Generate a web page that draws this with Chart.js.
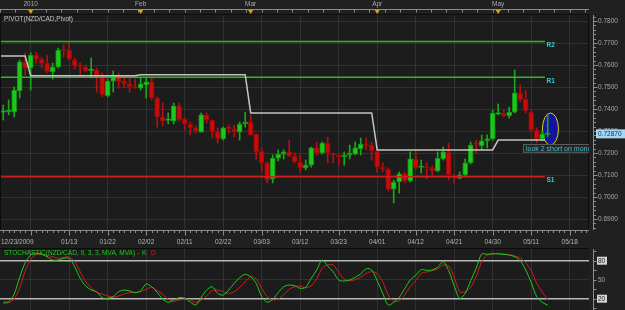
<!DOCTYPE html>
<html>
<head>
<meta charset="utf-8">
<script src="https://cdn.jsdelivr.net/npm/chart.js@4.4.1/dist/chart.umd.min.js"></script>
<style>
    html, body { margin: 0; padding: 0; background: #1f1f1f; overflow: hidden; }
    #wrap { position: relative; width: 625px; height: 310px; }
    #mainChart { position: absolute; left: 0; top: 0; }
    #stochChart { position: absolute; left: 0; top: 248px; }
</style>
</head>
<body>
<div id="wrap">
    <canvas id="mainChart" width="625" height="248"></canvas>
    <canvas id="stochChart" width="625" height="62"></canvas>
</div>
<script>
// daily NZD/CAD bars, index 0 = first visible bar
const opens  = [0.7385,0.7388,0.7386,0.7482,0.7614,0.7586,0.7645,0.7627,0.7609,0.7568,
                0.7591,0.7670,0.7668,0.7623,0.7598,0.7591,0.7573,0.7577,0.7545,0.7459,
                0.7527,0.7545,0.7527,0.7514,0.7500,0.7495,0.7509,0.7523,0.7450,0.7364,
                0.7348,0.7345,0.7414,0.7355,0.7332,0.7314,0.7295,0.7373,0.7350,0.7300,
                0.7264,0.7316,0.7309,0.7295,0.7332,0.7341,0.7286,0.7209,0.7155,0.7082,
                0.7177,0.7195,0.7205,0.7186,0.7159,0.7132,0.7145,0.7223,0.7200,0.7245,
                0.7195,0.7191,0.7182,0.7191,0.7195,0.7218,0.7241,0.7236,0.7209,0.7136,
                0.7127,0.7036,0.7068,0.7105,0.7073,0.7173,0.7134,0.7136,0.7132,0.7118,
                0.7173,0.7205,0.7100,0.7086,0.7100,0.7155,0.7243,0.7232,0.7255,0.7264,
                0.7377,0.7382,0.7368,0.7386,0.7473,0.7445,0.7386,0.7305,0.7264,0.7284];
const highs  = [0.7418,0.7441,0.7500,0.7623,0.7655,0.7655,0.7659,0.7636,0.7645,0.7609,
                0.7677,0.7691,0.7705,0.7632,0.7609,0.7600,0.7632,0.7586,0.7564,0.7536,
                0.7573,0.7564,0.7545,0.7545,0.7536,0.7541,0.7541,0.7541,0.7455,0.7427,
                0.7382,0.7427,0.7427,0.7359,0.7341,0.7323,0.7382,0.7382,0.7350,0.7314,
                0.7318,0.7327,0.7327,0.7341,0.7386,0.7373,0.7288,0.7223,0.7159,0.7191,
                0.7214,0.7214,0.7259,0.7200,0.7191,0.7168,0.7227,0.7250,0.7250,0.7273,
                0.7200,0.7195,0.7205,0.7236,0.7250,0.7268,0.7268,0.7250,0.7223,0.7155,
                0.7132,0.7077,0.7114,0.7114,0.7205,0.7214,0.7168,0.7155,0.7141,0.7205,
                0.7227,0.7245,0.7105,0.7114,0.7173,0.7250,0.7259,0.7282,0.7282,0.7395,
                0.7423,0.7395,0.7409,0.7577,0.7509,0.7486,0.7391,0.7314,0.7300,0.7370];
const lows   = [0.7350,0.7373,0.7364,0.7450,0.7555,0.7486,0.7609,0.7586,0.7564,0.7536,
                0.7586,0.7636,0.7623,0.7582,0.7555,0.7568,0.7541,0.7477,0.7455,0.7455,
                0.7477,0.7495,0.7495,0.7477,0.7493,0.7486,0.7450,0.7441,0.7318,0.7323,
                0.7332,0.7332,0.7345,0.7305,0.7282,0.7291,0.7295,0.7336,0.7268,0.7245,
                0.7259,0.7291,0.7273,0.7259,0.7318,0.7280,0.7173,0.7114,0.7064,0.7064,
                0.7164,0.7173,0.7184,0.7155,0.7114,0.7123,0.7136,0.7191,0.7195,0.7155,
                0.7155,0.7145,0.7145,0.7173,0.7191,0.7191,0.7214,0.7168,0.7114,0.7114,
                0.7027,0.6973,0.7018,0.7064,0.7068,0.7127,0.7109,0.7082,0.7091,0.7114,
                0.7168,0.7077,0.7064,0.7082,0.7091,0.7150,0.7200,0.7214,0.7223,0.7259,
                0.7373,0.7364,0.7359,0.7382,0.7432,0.7382,0.7295,0.7245,0.7255,0.7275];
const closes = [0.7387,0.7392,0.7486,0.7614,0.7586,0.7645,0.7627,0.7605,0.7568,0.7591,
                0.7668,0.7666,0.7627,0.7595,0.7593,0.7573,0.7582,0.7550,0.7464,0.7527,
                0.7550,0.7523,0.7514,0.7500,0.7495,0.7514,0.7523,0.7450,0.7364,0.7345,
                0.7352,0.7414,0.7350,0.7332,0.7314,0.7300,0.7373,0.7350,0.7295,0.7264,
                0.7314,0.7311,0.7295,0.7332,0.7341,0.7282,0.7205,0.7155,0.7077,0.7177,
                0.7195,0.7205,0.7186,0.7159,0.7132,0.7145,0.7223,0.7200,0.7245,0.7200,
                0.7191,0.7182,0.7191,0.7200,0.7223,0.7241,0.7232,0.7209,0.7136,0.7127,
                0.7036,0.7068,0.7105,0.7073,0.7173,0.7132,0.7139,0.7132,0.7118,0.7177,
                0.7205,0.7100,0.7086,0.7100,0.7155,0.7236,0.7239,0.7255,0.7264,0.7382,
                0.7382,0.7368,0.7386,0.7473,0.7441,0.7391,0.7305,0.7264,0.7286,0.7287];

// stochastic (9,3,3) %K and %D
const stochK = [14.3,15.3,27.4,53.8,76.9,89,91.7,90,86.3,81,
                81,83.8,83.8,70.5,52.2,40,33.7,31,21.6,20.6,
                23.2,31,33.7,32.2,29.5,32.6,43.2,39,30,19.5,
                14.3,18,21.6,21,14.8,10,22.2,33.7,39,28.5,
                25.8,33.7,44.3,53.2,58.5,54.7,44.3,23.2,14.3,19,
                29.5,39,41.6,40.5,36.4,38,52.2,65.3,81.1,71.6,
                62.6,49.5,48,49.5,53.8,59,67.4,65.3,48.4,28.5,
                10,14.3,22.2,35.8,49.5,57,65.8,64.8,65.3,69.6,
                78.4,64.2,40.5,20.6,28.5,48.4,68,90.6,90,91,
                90.6,90,89,86.3,80,65.3,45.9,23.2,14.3,10];
const stochD = [12.7,13.7,19.5,37.4,63.7,82.2,89.5,90.6,88.5,86.3,
                83.8,85.4,85.9,78.4,62.6,46.8,37.4,30.1,27.4,24.3,
                22.2,24.3,27.4,29.5,30.1,31,34.8,38,32.6,27,
                19,15.9,18,19.5,18,14.3,17.5,24.3,32.6,33.7,
                31,28.5,31,38,46.8,54.7,51.1,36.4,23.2,18,
                19.5,26.3,34.8,39,40,37.4,40.5,51.1,68,73.2,
                73.2,61.7,51.6,48.4,50,53.8,60.1,62.6,59.5,46.8,
                25.8,16.4,16.4,25.8,39,48.4,60.1,62.2,64.2,67.4,
                73.2,71.6,53.8,31,31,38,54.7,78.4,89,90.6,
                91.7,90.6,89.5,87.4,84.3,76.9,64.2,44.3,31,18];

// axis labels
const gridIdx = [5,12,19,26,33,40,47,54,61,68,75,82,89,96,103];
const dateLabels = ['','01/13','01/22','02/02','02/11','02/22','03/03','03/12','03/23','04/01','04/12','04/21','04/30','05/11','05/18'];
const firstDate = '12/23/2009';
const monthIdx = [5,25,45,68,90];
const monthLabels = ['2010','Feb','Mar','Apr','May'];
const priceTicks = [0.69,0.70,0.71,0.72,0.73,0.74,0.75,0.76,0.77,0.78];
const stochLevels = [20,50,80];

// monthly pivot and current levels
const pivotStarts = [-1,5,25,45,68,90];
const pivotValues = [0.7641,0.7551,0.7556,0.7382,0.7214,0.7259];
const levelNames = ['R2','R1','S1'];
const levelValues = [0.7707,0.7544,0.7092];
const levelColors = ['#26bc26','#26bc26','#cc1e1e'];
const levelEnd = 98.5;
const lastPrice = 0.72870;
const note = 'look 2 short on monday';

const xMin = -0.58, xMax = 106.51;
const yMin = 0.6850, yMax = 0.78273;
const FONT = '"Liberation Sans", Arial, sans-serif';

const pivotPts = [];
pivotStarts.forEach(function(s, k) {
    const end = k < pivotStarts.length - 1 ? pivotStarts[k + 1] - 1 : levelEnd;
    pivotPts.push({x: s, y: pivotValues[k]}, {x: end, y: pivotValues[k]});
});

const up = closes.map((c, i) => c >= opens[i]);

const mainDecor = {
    id: 'mainDecor',
    beforeDraw(chart) {
        const {ctx, chartArea: a} = chart;
        ctx.save();
        ctx.fillStyle = '#202020';
        ctx.fillRect(0, 0, chart.width, chart.height);
        ctx.fillStyle = '#1c1c1c';
        ctx.fillRect(a.left, a.top, a.right - a.left, a.bottom - a.top);
        ctx.restore();
    },
    beforeDatasetsDraw(chart) {
        const {ctx} = chart;
        const xs = chart.scales.x, ys = chart.scales.y;
        // highlight ellipse round the last bars
        ctx.save();
        ctx.beginPath();
        ctx.ellipse(xs.getPixelForValue(99.5), ys.getPixelForValue(0.7309), 8, 16, 0, 0, Math.PI * 2);
        ctx.fillStyle = '#1414a0';
        ctx.fill();
        ctx.strokeStyle = '#d8cc20';
        ctx.lineWidth = 1;
        ctx.stroke();
        ctx.restore();
    },
    afterDraw(chart) {
        const {ctx, chartArea: a} = chart;
        const xs = chart.scales.x, ys = chart.scales.y;
        ctx.save();

        // panel border
        ctx.strokeStyle = '#0c0c0c';
        ctx.lineWidth = 1;
        ctx.strokeRect(a.left + 0.5, a.top - 0.5, a.right - a.left - 1, a.bottom - a.top + 1);

        // top ruler with month markers
        ctx.strokeStyle = '#8c8c8c';
        ctx.beginPath();
        ctx.moveTo(0, 9.5); ctx.lineTo(a.right, 9.5);
        for (let v = 5 - 2.8 * 2; v < xMax; v += 2.8) {
            const px = Math.round(xs.getPixelForValue(v)) + 0.5;
            ctx.moveTo(px, 9.5); ctx.lineTo(px, 12.5);
        }
        ctx.stroke();
        ctx.font = '6.5px ' + FONT;
        ctx.textBaseline = 'middle';
        ctx.textAlign = 'center';
        monthIdx.forEach(function(v, k) {
            const px = xs.getPixelForValue(v);
            ctx.fillStyle = '#e3a01c';
            ctx.beginPath();
            ctx.moveTo(px - 2.5, 10); ctx.lineTo(px + 2.5, 10); ctx.lineTo(px, 14);
            ctx.closePath();
            ctx.fill();
            ctx.fillStyle = '#a8a8a8';
            ctx.fillText(monthLabels[k], px, 4.5);
        });

        // bottom ruler
        ctx.strokeStyle = '#8c8c8c';
        ctx.beginPath();
        ctx.moveTo(0, a.bottom + 0.5); ctx.lineTo(a.right, a.bottom + 0.5);
        for (let i = 0; i < xMax; i++) {
            const px = Math.round(xs.getPixelForValue(i)) + 0.5;
            const len = gridIdx.includes(i) ? 5 : 2.5;
            ctx.moveTo(px, a.bottom + 0.5); ctx.lineTo(px, a.bottom + 0.5 + len);
        }
        ctx.stroke();
        ctx.fillStyle = '#b4b4b4';
        ctx.textAlign = 'left';
        ctx.fillText(firstDate, 1, 242.5);

        // right ruler
        ctx.strokeStyle = '#8c8c8c';
        ctx.beginPath();
        ctx.moveTo(593.5, a.top); ctx.lineTo(593.5, a.bottom);
        for (let k = 343; k <= 391; k++) {
            const v = k / 500;
            const py = Math.round(ys.getPixelForValue(v)) + 0.5;
            if (py < a.top || py > a.bottom) continue;
            ctx.moveTo(593.5, py); ctx.lineTo(593.5 + (k % 5 === 0 ? 4 : 2.5), py);
        }
        ctx.stroke();

        // last price marker
        const lp = ys.getPixelForValue(lastPrice);
        ctx.fillStyle = '#a6d6f6';
        ctx.fillRect(596, lp - 4.5, 29, 9);
        ctx.fillStyle = '#0a2a50';
        ctx.fillText(lastPrice.toFixed(5), 598, lp + 0.5);

        // indicator title
        ctx.fillStyle = '#c8c8c8';
        ctx.fillText('PIVOT(NZD/CAD,Pivot)', 4, 19.5);

        // level labels
        ctx.fillStyle = '#3cc8d2';
        ctx.font = 'bold 6.5px ' + FONT;
        levelNames.forEach(function(n, k) {
            ctx.fillText(n, xs.getPixelForValue(levelEnd) + 1.5, ys.getPixelForValue(levelValues[k]) + 3.5);
        });

        // note box
        ctx.beginPath();
        ctx.rect(a.left, a.top, a.right - a.left, a.bottom - a.top);
        ctx.clip();
        const bx = xs.getPixelForValue(94.5), by = ys.getPixelForValue(0.7241);
        const bh = ys.getPixelForValue(0.7201) - by;
        ctx.fillStyle = '#252525';
        ctx.fillRect(bx, by, 80, bh);
        ctx.strokeStyle = '#5c5c5c';
        ctx.strokeRect(bx + 0.5, by + 0.5, 80, bh - 1);
        ctx.fillStyle = '#40c4cc';
        ctx.font = '7px ' + FONT;
        ctx.fillText(note, bx + 3, by + bh / 2 + 0.5);
        ctx.restore();
    }
};

new Chart(document.getElementById('mainChart'), {
    type: 'bar',
    data: {
        datasets: [
            {
                type: 'line',
                label: 'Pivot',
                data: pivotPts,
                borderColor: '#c4c4c4',
                borderWidth: 1.5,
                pointRadius: 0,
                order: 0
            },
            ...levelNames.map(function(n, k) {
                return {
                    type: 'line',
                    label: n,
                    data: [{x: -1, y: levelValues[k]}, {x: levelEnd, y: levelValues[k]}],
                    borderColor: levelColors[k],
                    borderWidth: 1.5,
                    pointRadius: 0,
                    order: 0
                };
            }),
            {
                label: 'Wick',
                data: lows.map((l, i) => ({x: i, y: [l, highs[i]]})),
                backgroundColor: up.map(u => u ? '#1aa81a' : '#b41010'),
                barThickness: 1,
                grouped: false,
                order: 2
            },
            {
                label: 'NZD/CAD',
                data: opens.map((o, i) => ({x: i, y: [o, closes[i]]})),
                backgroundColor: up.map(u => u ? '#1cc81c' : '#c80c0c'),
                borderColor: up.map(u => u ? '#109010' : '#8c0a0a'),
                borderWidth: 1,
                borderSkipped: false,
                barThickness: 5,
                minBarLength: 1.5,
                grouped: false,
                order: 1
            }
        ]
    },
    options: {
        responsive: false,
        animation: false,
        layout: { padding: { top: 15, left: 0, right: 0, bottom: 0 } },
        plugins: {
            legend: { display: false },
            tooltip: { enabled: false }
        },
        scales: {
            x: {
                type: 'linear',
                position: 'bottom',
                offset: false,
                min: xMin,
                max: xMax,
                afterBuildTicks: function(scale) { scale.ticks = gridIdx.map(v => ({value: v})); },
                afterFit: function(scale) { scale.height = 18; },
                ticks: {
                    autoSkip: false,
                    maxRotation: 0,
                    padding: 8.6,
                    color: '#b4b4b4',
                    font: { family: FONT, size: 6.5 },
                    callback: function(value) {
                        const k = gridIdx.indexOf(value);
                        return k >= 0 ? dateLabels[k] : '';
                    }
                },
                grid: { color: '#313131', drawTicks: false, offset: false },
                border: { display: false }
            },
            y: {
                position: 'right',
                min: yMin,
                max: yMax,
                afterBuildTicks: function(scale) { scale.ticks = priceTicks.map(v => ({value: v})); },
                afterFit: function(scale) { scale.width = 36; },
                ticks: {
                    padding: 9,
                    color: '#a8a8a8',
                    font: { family: FONT, size: 6.5 },
                    callback: v => v.toFixed(4)
                },
                grid: { color: '#313131', drawTicks: false },
                border: { display: false }
            }
        }
    },
    plugins: [mainDecor]
});

const stochDecor = {
    id: 'stochDecor',
    beforeDraw(chart) {
        const {ctx, chartArea: a} = chart;
        ctx.save();
        ctx.fillStyle = '#202020';
        ctx.fillRect(0, 0, chart.width, chart.height);
        ctx.fillStyle = '#1c1c1c';
        ctx.fillRect(a.left, a.top, a.right - a.left, a.bottom - a.top);
        ctx.restore();
    },
    afterDraw(chart) {
        const {ctx, chartArea: a} = chart;
        const ys = chart.scales.y;
        ctx.save();
        ctx.strokeStyle = '#0c0c0c';
        ctx.beginPath();
        ctx.moveTo(0, a.top - 0.5); ctx.lineTo(a.right, a.top - 0.5);
        ctx.stroke();

        // title
        ctx.font = '6.5px ' + FONT;
        ctx.textBaseline = 'middle';
        ctx.textAlign = 'left';
        const title = 'STOCHASTIC(NZD/CAD, 9, 3, 3, MVA, MVA) -';
        ctx.fillStyle = '#22c822';
        ctx.fillText(title, 4, 5.5);
        const w = ctx.measureText(title).width;
        ctx.fillText('K', 4 + w + 3, 5.5);
        ctx.fillStyle = '#d22020';
        ctx.fillText('D', 4 + w + 12, 5.5);

        // right ruler
        ctx.strokeStyle = '#8c8c8c';
        ctx.beginPath();
        ctx.moveTo(593.5, a.top); ctx.lineTo(593.5, a.bottom);
        for (let v = 5; v <= 95; v += 15) {
            const py = Math.round(ys.getPixelForValue(v)) + 0.5;
            ctx.moveTo(593.5, py); ctx.lineTo(596.5, py);
        }
        ctx.stroke();
        stochLevels.forEach(function(v) {
            const py = ys.getPixelForValue(v);
            if (v !== 50) {
                ctx.fillStyle = '#d4d4d4';
                ctx.fillRect(597, py - 4, 10, 8);
                ctx.fillStyle = '#202020';
            } else {
                ctx.fillStyle = '#a8a8a8';
            }
            ctx.fillText(String(v), 598, py + 0.5);
        });
        ctx.restore();
    }
};

new Chart(document.getElementById('stochChart'), {
    type: 'line',
    data: {
        datasets: [
            {
                label: 'K',
                data: stochK.map((v, i) => ({x: i, y: v})),
                borderColor: '#1ecb1e',
                borderWidth: 1,
                pointRadius: 0,
                tension: 0.3
            },
            {
                label: 'D',
                data: stochD.map((v, i) => ({x: i, y: v})),
                borderColor: '#d01c1c',
                borderWidth: 1,
                pointRadius: 0,
                tension: 0.3
            }
        ]
    },
    options: {
        responsive: false,
        animation: false,
        layout: { padding: { top: 1 } },
        plugins: {
            legend: { display: false },
            tooltip: { enabled: false }
        },
        scales: {
            x: {
                type: 'linear',
                min: xMin,
                max: xMax,
                afterBuildTicks: function(scale) { scale.ticks = gridIdx.map(v => ({value: v})); },
                afterFit: function(scale) { scale.height = 0; },
                ticks: { display: false },
                grid: { color: '#313131', drawTicks: false },
                border: { display: false }
            },
            y: {
                position: 'right',
                min: 2.16,
                max: 98.5,
                afterBuildTicks: function(scale) { scale.ticks = stochLevels.map(v => ({value: v})); },
                afterFit: function(scale) { scale.width = 36; },
                ticks: { display: false },
                grid: {
                    color: c => c.tick && c.tick.value === 50 ? '#313131' : '#b8b8b8',
                    lineWidth: c => c.tick && c.tick.value === 50 ? 1 : 1.5,
                    drawTicks: false
                },
                border: { display: false }
            }
        }
    },
    plugins: [stochDecor]
});
</script>
</body>
</html>
